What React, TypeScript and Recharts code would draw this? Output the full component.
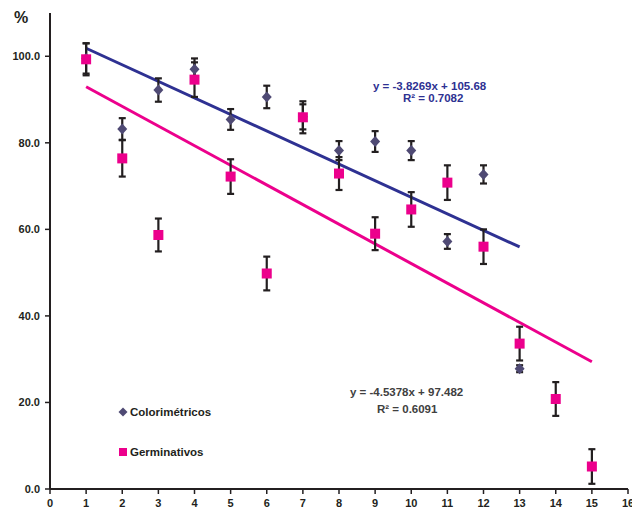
import React from 'react';
import {
    ScatterChart,
    Scatter,
    XAxis,
    YAxis,
    ErrorBar,
    ReferenceLine,
} from 'recharts';

// Colorimetric tests (diamonds), samples 1..13
const colorX = [1, 2, 3, 4, 5, 6, 7, 8, 9, 10, 11, 12, 13];
const colorY = [99.5, 83.2, 92.2, 97.0, 85.4, 90.6, 86.0, 78.2, 80.3, 78.2, 57.2, 72.7, 27.8];
const colorErr = [3.5, 2.5, 2.7, 2.5, 2.4, 2.6, 2.9, 2.2, 2.4, 2.2, 1.7, 2.1, 0.8];

// Germination tests (squares), samples 1..15
const germX = [1, 2, 3, 4, 5, 6, 7, 8, 9, 10, 11, 12, 13, 14, 15];
const germY = [99.3, 76.4, 58.7, 94.6, 72.2, 49.8, 85.9, 72.9, 59.0, 64.6, 70.8, 56.0, 33.6, 20.8, 5.2];
const germErr = [3.7, 4.2, 3.8, 4.0, 4.0, 3.9, 3.7, 3.8, 3.8, 4.0, 4.0, 4.0, 3.9, 3.9, 4.0];

// linear trend lines as printed on the chart
const colorTrend = { slope: -3.8269, intercept: 105.68, from: 1, to: 13 };
const germTrend = { slope: -4.5378, intercept: 97.482, from: 1, to: 15 };

const xTicks = [0, 1, 2, 3, 4, 5, 6, 7, 8, 9, 10, 11, 12, 13, 14, 15, 16];
const yTicks = [0, 20, 40, 60, 80, 100];

const colorData = colorX.map((x, i) => ({ x, y: colorY[i], err: colorErr[i] }));
const germData = germX.map((x, i) => ({ x, y: germY[i], err: germErr[i] }));

const trendSegment = (t: typeof colorTrend) => [
    { x: t.from, y: t.slope * t.from + t.intercept },
    { x: t.to, y: t.slope * t.to + t.intercept },
];

const DIAMOND = '#4f4a74';
const PINK = '#ec008c';
const BLUE = '#2e3192';
const INK = '#231f20';
const FONT = '"Liberation Sans", Arial, sans-serif';

const Diamond = (p: any) => (
    <path
        d={`M${p.cx},${p.cy - 5.5} L${p.cx + 5},${p.cy} L${p.cx},${p.cy + 5.5} L${p.cx - 5},${p.cy} Z`}
        fill={DIAMOND}
    />
);

const Square = (p: any) => (
    <rect x={p.cx - 5} y={p.cy - 5} width={10} height={10} fill={PINK} />
);

const tickStyle = { fontSize: 11, fontWeight: 700, fill: INK, fontFamily: FONT };

const textBase: React.CSSProperties = {
    position: 'absolute',
    fontFamily: FONT,
    fontWeight: 700,
    fontSize: 11.5,
    whiteSpace: 'nowrap',
    lineHeight: '12px',
};

const App: React.FC = () => {
    return (
        <div style={{ position: 'absolute', left: 0, top: 0, width: 632, height: 514, background: '#fff' }}>
            <ScatterChart width={632} height={514} margin={{ top: 13, right: 4, bottom: 5, left: 8 }}>
                <XAxis
                    type="number"
                    dataKey="x"
                    domain={[0, 16]}
                    ticks={xTicks}
                    interval={0}
                    height={20}
                    tickSize={5}
                    tickMargin={5}
                    tick={tickStyle}
                    axisLine={{ stroke: INK, strokeWidth: 2 }}
                    tickLine={{ stroke: INK, strokeWidth: 1.5 }}
                    allowDataOverflow
                />
                <YAxis
                    type="number"
                    dataKey="y"
                    domain={[0, 110]}
                    ticks={yTicks}
                    interval={0}
                    width={42}
                    tickSize={5}
                    tickMargin={5}
                    tick={tickStyle}
                    tickFormatter={(v: number) => v.toFixed(1)}
                    axisLine={{ stroke: INK, strokeWidth: 2 }}
                    tickLine={{ stroke: INK, strokeWidth: 1.5 }}
                    allowDataOverflow
                />
                <ReferenceLine segment={trendSegment(colorTrend)} stroke={BLUE} strokeWidth={3} />
                <ReferenceLine segment={trendSegment(germTrend)} stroke={PINK} strokeWidth={3} />
                <Scatter name="Colorimétricos" data={colorData} shape={Diamond} isAnimationActive={false}>
                    <ErrorBar dataKey="err" direction="y" width={3.5} stroke={INK} strokeWidth={2.2} />
                </Scatter>
                <Scatter name="Germinativos" data={germData} shape={Square} isAnimationActive={false}>
                    <ErrorBar dataKey="err" direction="y" width={3.5} stroke={INK} strokeWidth={2.2} />
                </Scatter>
            </ScatterChart>

            <div style={{ ...textBase, left: 14, top: 12, fontSize: 16, color: INK }}>%</div>

            <div style={{ ...textBase, left: 373, top: 80, color: BLUE }}>y = -3.8269x + 105.68</div>
            <div style={{ ...textBase, left: 403, top: 92, color: BLUE }}>R² = 0.7082</div>

            <div style={{ ...textBase, left: 350, top: 386, color: '#404040' }}>y = -4.5378x + 97.482</div>
            <div style={{ ...textBase, left: 377, top: 403, color: '#404040' }}>R² = 0.6091</div>

            <svg style={{ position: 'absolute', left: 117, top: 406 }} width={12} height={12}>
                <path d="M6,1.5 L10.5,6 L6,10.5 L1.5,6 Z" fill={DIAMOND} />
            </svg>
            <div style={{ ...textBase, left: 130, top: 406, color: INK }}>Colorimétricos</div>

            <svg style={{ position: 'absolute', left: 117, top: 446 }} width={12} height={12}>
                <rect x={2} y={2} width={8} height={8} fill={PINK} />
            </svg>
            <div style={{ ...textBase, left: 130, top: 446, color: INK }}>Germinativos</div>
        </div>
    );
};

export default App;
